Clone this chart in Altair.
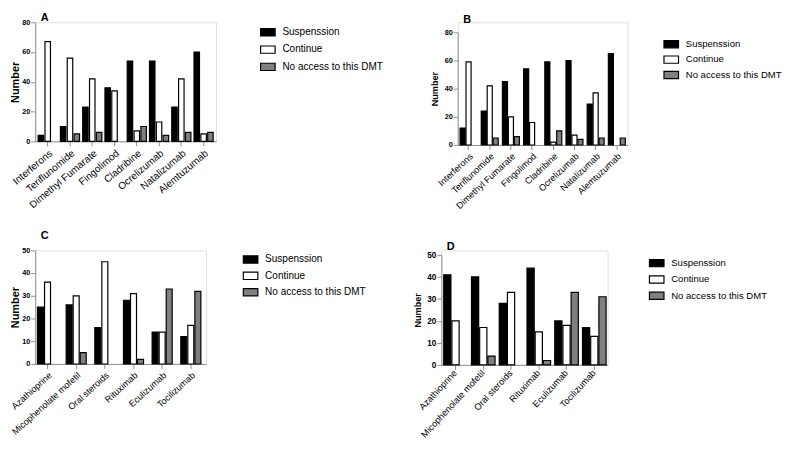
import altair as alt
import pandas as pd

FONT = "Liberation Sans"

status = ["Suspenssion", "Continue", "No access to this DMT"]
fill_colors = ["#000000", "#ffffff", "#7f7f7f"]

ms_drugs = ["Interferons", "Teriflunomide", "Dimethyl Fumarate", "Fingolimod",
            "Cladribine", "Ocrelizumab", "Natalizumab", "Alemtuzumab"]
nmo_drugs = ["Azathioprine", "Micophenolate mofetil", "Oral steroids",
             "Rituximab", "Eculizumab", "Tocilizumab"]

# Panel A
a_susp = [4, 10, 23, 36, 54, 54, 23, 60]
a_cont = [67, 56, 42, 34, 7, 13, 42, 5]
a_noacc = [0, 5, 6, 0, 10, 4, 6, 6]
# Panel B
b_susp = [12, 24, 45, 54, 59, 60, 29, 65]
b_cont = [59, 42, 20, 16, 2, 7, 37, 0]
b_noacc = [0, 5, 6, 0, 10, 4, 5, 5]
# Panel C
c_susp = [25, 26, 16, 28, 14, 12]
c_cont = [36, 30, 45, 31, 14, 17]
c_noacc = [0, 5, 0, 2, 33, 32]
# Panel D
d_susp = [41, 40, 28, 44, 20, 17]
d_cont = [20, 17, 33, 15, 18, 13]
d_noacc = [0, 4, 0, 2, 33, 31]

ytick_80 = [0, 20, 40, 60, 80]
ytick_50 = [0, 10, 20, 30, 40, 50]

SYMBOL = "M-1,-0.5H1V0.5H-1Z"


def panel(cats, s, c, n, letter, width, height, top_gap, ymax, yticks,
          pad_inner, pad_outer, align, sub_pad, legend_dx, legend_y, row_pad,
          title_offset, title_font, title_pad, tick_font, xlab_font, lab_angle,
          legend_font):
    rows = []
    for i, cat in enumerate(cats):
        for st, vals in zip(status, (s, c, n)):
            if vals[i] > 0:
                rows.append({"drug": cat, "status": st, "value": vals[i]})
    df = pd.DataFrame(rows)

    ttl = alt.TitleParams(text=letter, anchor="start", frame="group",
                          offset=title_offset, dx=6, fontSize=12, fontWeight="bold",
                          font=FONT, color="black")

    yax = alt.Axis(values=yticks, title="Number",
                   titleFontSize=title_font, titleFontWeight="bold",
                   titlePadding=title_pad, labelPadding=1,
                   labelFontSize=tick_font, labelFontWeight="bold", grid=False)

    full_h = height + top_gap
    return alt.Chart(df, title=ttl).mark_bar(stroke="black", strokeWidth=1.3).encode(
        x=alt.X("drug:N", sort=cats,
                scale=alt.Scale(domain=cats, paddingInner=pad_inner,
                                paddingOuter=pad_outer, align=align),
                axis=alt.Axis(title=None, labelAngle=lab_angle, labelFontSize=xlab_font,
                              labelPadding=2, grid=False)),
        xOffset=alt.XOffset("status:N", sort=status,
                            scale=alt.Scale(domain=status, paddingInner=sub_pad,
                                            paddingOuter=0)),
        y=alt.Y("value:Q",
                scale=alt.Scale(domain=[0, ymax], nice=False, range=[full_h, top_gap]),
                axis=yax),
        fill=alt.Fill("status:N", sort=status,
                      scale=alt.Scale(domain=status, range=fill_colors),
                      legend=alt.Legend(title=None, orient="none",
                                        legendX=width + legend_dx, legendY=legend_y,
                                        symbolType=SYMBOL, symbolSize=256,
                                        symbolStrokeColor="black", symbolStrokeWidth=1.3,
                                        labelFontSize=legend_font, labelOffset=7,
                                        rowPadding=row_pad, padding=0, labelFont=FONT,
                                        labelColor="black")),
    ).properties(width=width, height=full_h)


A = panel(ms_drugs, a_susp, a_cont, a_noacc, "A", 199, 131, 0, 80, ytick_80,
          0.14, 0.13, 0.5, 0.2, 48, 2, 3, -6, 12, 1, 8, 11, -40, 11)
B = panel(ms_drugs, b_susp, b_cont, b_noacc, "B", 187, 124, 11, 80, ytick_80,
          0.2, 0.11, 0.5, 0.15, 39, 15, 1, -4, 10, 5, 8, 10, -43, 10.5)
C = panel(nmo_drugs, c_susp, c_cont, c_noacc, "C", 188, 125, 0, 50, ytick_50,
          0.3, 0.13, 0.3, 0.15, 40, 1, 2, 5, 12, 1, 8, 10, -42, 11)
D = panel(nmo_drugs, d_susp, d_cont, d_noacc, "D", 183, 121, 5, 50, ytick_50,
          0.15, 0.07, 0.6, 0.12, 45, 5, 2, -3, 10, 5, 9, 10, -47, 10.5)

res = dict(x="independent", y="independent", xOffset="independent", fill="independent")

row1 = alt.hconcat(A, B, spacing=50).resolve_scale(**res)
row2 = alt.hconcat(C, D, spacing=50).resolve_scale(**res)

chart = alt.vconcat(row1, row2, spacing=20).resolve_scale(**res).properties(
    padding={"left": 0, "top": -19, "right": 0, "bottom": 0}
).configure_view(stroke=None).configure_axis(
    domainColor="black", domainWidth=2, tickColor="black", tickWidth=1.5, tickSize=4,
    labelColor="black", titleColor="black", labelFont=FONT, titleFont=FONT
).configure(background="white")

chart.save("out.html", embed_options={"renderer": "svg", "actions": False})
